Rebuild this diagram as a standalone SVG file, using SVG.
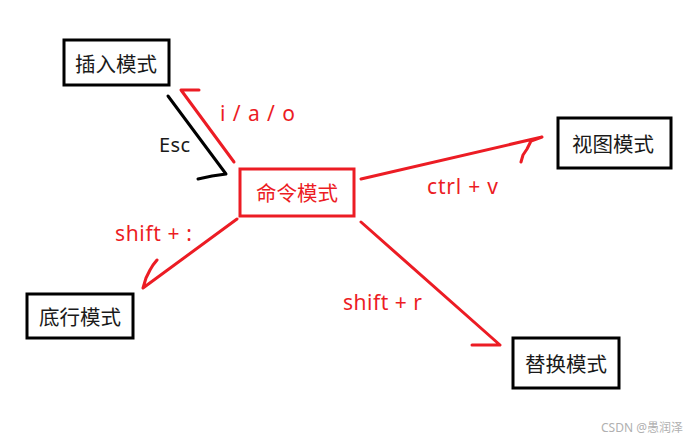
<svg xmlns="http://www.w3.org/2000/svg" width="690" height="442" viewBox="0 0 690 442">
<style>
.box{fill:#fff;stroke:#000;stroke-width:3}
.rbox{fill:#fff;stroke:#ec1c24;stroke-width:3}
.t{font-family:"Noto Sans CJK SC","Noto Sans",sans-serif;font-size:20.5px;fill:#1a1a1a;text-anchor:middle;dominant-baseline:central}
.rt{fill:#ec1c24}
.lbl{font-family:"Noto Sans","Noto Sans CJK SC",sans-serif;font-size:21px;fill:#ec1c24}
.r{fill:none;stroke:#ec1c24;stroke-width:3;stroke-linejoin:round;stroke-linecap:round}
.k{fill:none;stroke:#000;stroke-width:3;stroke-linejoin:round;stroke-linecap:round}
</style>
<rect width="690" height="442" fill="#fff"/>
<g id="connectors">
<polyline class="k" points="168,96 226,174 212,176 198,179"/>
<polyline class="r" points="234,162 181,90 199,90"/>
<polyline class="r" points="361,179 542,137 531,141 527,149 523,155 521,162"/>
<polyline class="r" points="237,219 143,288 146,278 150,270 153,265 157,260"/>
<polyline class="r" points="361,222 500,345 472,345"/>
</g>
<g id="labels">
<text x="159" y="152" class="lbl" style="fill:#1a1a1a;font-size:20px" textLength="31" lengthAdjust="spacing">Esc</text>
<text x="220" y="121" class="lbl" textLength="75" lengthAdjust="spacing">i / a / o</text>
<text x="427" y="194" class="lbl" textLength="71" lengthAdjust="spacing">ctrl + v</text>
<text x="115" y="241" class="lbl" textLength="77" lengthAdjust="spacing">shift + :</text>
<text x="343" y="310" class="lbl" textLength="79" lengthAdjust="spacing">shift + r</text>
</g>
<g id="insert">
<rect class="box" x="64" y="40" width="105" height="45"/>
<text class="t" x="116" y="63">插入模式</text>
</g>
<g id="command">
<rect class="rbox" x="240" y="169" width="114" height="47"/>
<text class="t rt" x="297" y="192">命令模式</text>
</g>
<g id="visual">
<rect class="box" x="558" y="118" width="113" height="50"/>
<text class="t" x="613" y="143">视图模式</text>
</g>
<g id="lastline">
<rect class="box" x="27" y="294" width="106" height="44"/>
<text class="t" x="80" y="316">底行模式</text>
</g>
<g id="replace">
<rect class="box" x="513" y="338" width="106" height="50"/>
<text class="t" x="566" y="363">替换模式</text>
</g>
<text x="683" y="432" style="font-family:'Noto Sans','Noto Sans CJK SC',sans-serif;font-size:12px;fill:#b0b0b0;text-anchor:end">CSDN @愚润泽</text>
</svg>
